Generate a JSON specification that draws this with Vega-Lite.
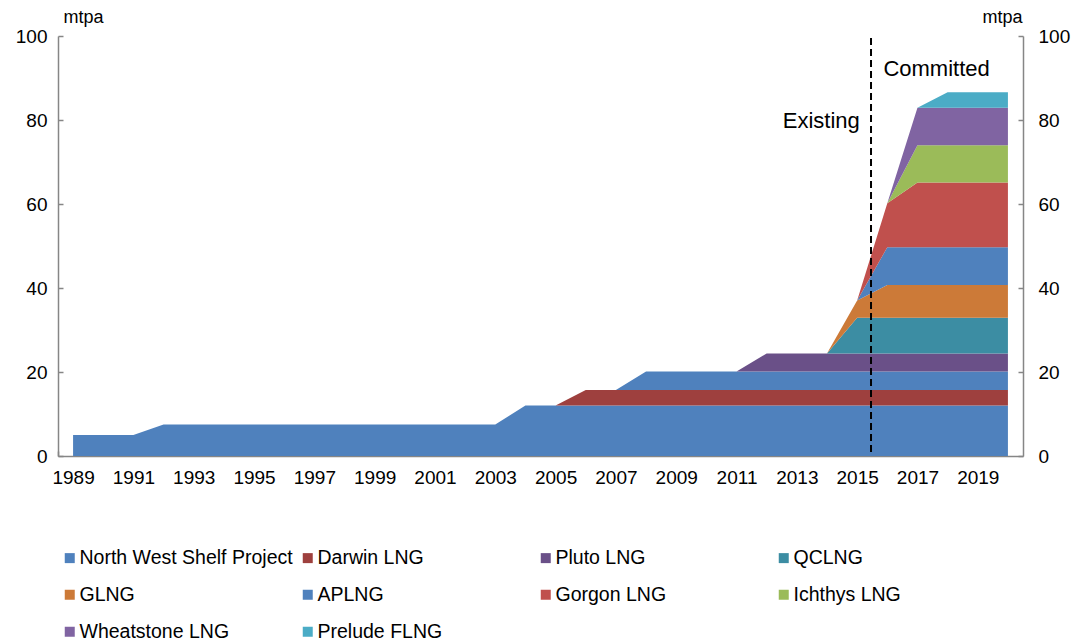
{
  "$schema": "https://vega.github.io/schema/vega-lite/v6.json",
  "width": 965,
  "height": 420,
  "autosize": "none",
  "padding": {"left": 58, "top": 36, "right": 59, "bottom": 185},
  "config": {
    "view": {"stroke": null},
    "font": "Liberation Sans",
    "axis": {
      "grid": false,
      "labelFont": "Liberation Sans",
      "labelFontSize": 19,
      "labelColor": "#000000",
      "domainColor": "#868686",
      "domainWidth": 1.5,
      "tickColor": "#868686",
      "tickWidth": 1.5,
      "titleFont": "Liberation Sans",
      "titleFontWeight": "normal",
      "titleColor": "#000000"
    }
  },
  "encoding": {
    "x": {
      "field": "year",
      "type": "quantitative",
      "scale": {"domain": [1988.5, 2020.5], "nice": false, "zero": false},
      "axis": {
        "title": null,
        "values": [1989, 1991, 1993, 1995, 1997, 1999, 2001, 2003, 2005, 2007, 2009, 2011, 2013, 2015, 2017, 2019],
        "format": "d",
        "tickSize": -5,
        "tickOffset": -15.08,
        "labelOffset": 15.08,
        "labelPadding": 17,
        "labelFlush": false,
        "labelOverlap": false
      }
    }
  },
  "layer": [
    {
      "data": {
        "values": [
          {"year": 1989, "project": "North West Shelf Project", "mtpa": 5},
          {"year": 1990, "project": "North West Shelf Project", "mtpa": 5},
          {"year": 1991, "project": "North West Shelf Project", "mtpa": 5},
          {"year": 1992, "project": "North West Shelf Project", "mtpa": 7.5},
          {"year": 1993, "project": "North West Shelf Project", "mtpa": 7.5},
          {"year": 1994, "project": "North West Shelf Project", "mtpa": 7.5},
          {"year": 1995, "project": "North West Shelf Project", "mtpa": 7.5},
          {"year": 1996, "project": "North West Shelf Project", "mtpa": 7.5},
          {"year": 1997, "project": "North West Shelf Project", "mtpa": 7.5},
          {"year": 1998, "project": "North West Shelf Project", "mtpa": 7.5},
          {"year": 1999, "project": "North West Shelf Project", "mtpa": 7.5},
          {"year": 2000, "project": "North West Shelf Project", "mtpa": 7.5},
          {"year": 2001, "project": "North West Shelf Project", "mtpa": 7.5},
          {"year": 2002, "project": "North West Shelf Project", "mtpa": 7.5},
          {"year": 2003, "project": "North West Shelf Project", "mtpa": 7.5},
          {"year": 2004, "project": "North West Shelf Project", "mtpa": 12},
          {"year": 2005, "project": "North West Shelf Project", "mtpa": 12},
          {"year": 2006, "project": "North West Shelf Project", "mtpa": 12},
          {"year": 2007, "project": "North West Shelf Project", "mtpa": 12},
          {"year": 2008, "project": "North West Shelf Project", "mtpa": 12},
          {"year": 2009, "project": "North West Shelf Project", "mtpa": 12},
          {"year": 2010, "project": "North West Shelf Project", "mtpa": 12},
          {"year": 2011, "project": "North West Shelf Project", "mtpa": 12},
          {"year": 2012, "project": "North West Shelf Project", "mtpa": 12},
          {"year": 2013, "project": "North West Shelf Project", "mtpa": 12},
          {"year": 2014, "project": "North West Shelf Project", "mtpa": 12},
          {"year": 2015, "project": "North West Shelf Project", "mtpa": 12},
          {"year": 2016, "project": "North West Shelf Project", "mtpa": 12},
          {"year": 2017, "project": "North West Shelf Project", "mtpa": 12},
          {"year": 2018, "project": "North West Shelf Project", "mtpa": 12},
          {"year": 2019, "project": "North West Shelf Project", "mtpa": 12},
          {"year": 2020, "project": "North West Shelf Project", "mtpa": 12},
          {"year": 2005, "project": "Darwin LNG", "mtpa": 0},
          {"year": 2006, "project": "Darwin LNG", "mtpa": 3.7},
          {"year": 2007, "project": "Darwin LNG", "mtpa": 3.7},
          {"year": 2008, "project": "Darwin LNG", "mtpa": 3.7},
          {"year": 2009, "project": "Darwin LNG", "mtpa": 3.7},
          {"year": 2010, "project": "Darwin LNG", "mtpa": 3.7},
          {"year": 2011, "project": "Darwin LNG", "mtpa": 3.7},
          {"year": 2012, "project": "Darwin LNG", "mtpa": 3.7},
          {"year": 2013, "project": "Darwin LNG", "mtpa": 3.7},
          {"year": 2014, "project": "Darwin LNG", "mtpa": 3.7},
          {"year": 2015, "project": "Darwin LNG", "mtpa": 3.7},
          {"year": 2016, "project": "Darwin LNG", "mtpa": 3.7},
          {"year": 2017, "project": "Darwin LNG", "mtpa": 3.7},
          {"year": 2018, "project": "Darwin LNG", "mtpa": 3.7},
          {"year": 2019, "project": "Darwin LNG", "mtpa": 3.7},
          {"year": 2020, "project": "Darwin LNG", "mtpa": 3.7},
          {"year": 2007, "project": "North West Shelf Train 5", "mtpa": 0},
          {"year": 2008, "project": "North West Shelf Train 5", "mtpa": 4.4},
          {"year": 2009, "project": "North West Shelf Train 5", "mtpa": 4.4},
          {"year": 2010, "project": "North West Shelf Train 5", "mtpa": 4.4},
          {"year": 2011, "project": "North West Shelf Train 5", "mtpa": 4.4},
          {"year": 2012, "project": "North West Shelf Train 5", "mtpa": 4.4},
          {"year": 2013, "project": "North West Shelf Train 5", "mtpa": 4.4},
          {"year": 2014, "project": "North West Shelf Train 5", "mtpa": 4.4},
          {"year": 2015, "project": "North West Shelf Train 5", "mtpa": 4.4},
          {"year": 2016, "project": "North West Shelf Train 5", "mtpa": 4.4},
          {"year": 2017, "project": "North West Shelf Train 5", "mtpa": 4.4},
          {"year": 2018, "project": "North West Shelf Train 5", "mtpa": 4.4},
          {"year": 2019, "project": "North West Shelf Train 5", "mtpa": 4.4},
          {"year": 2020, "project": "North West Shelf Train 5", "mtpa": 4.4},
          {"year": 2011, "project": "Pluto LNG", "mtpa": 0},
          {"year": 2012, "project": "Pluto LNG", "mtpa": 4.3},
          {"year": 2013, "project": "Pluto LNG", "mtpa": 4.3},
          {"year": 2014, "project": "Pluto LNG", "mtpa": 4.3},
          {"year": 2015, "project": "Pluto LNG", "mtpa": 4.3},
          {"year": 2016, "project": "Pluto LNG", "mtpa": 4.3},
          {"year": 2017, "project": "Pluto LNG", "mtpa": 4.3},
          {"year": 2018, "project": "Pluto LNG", "mtpa": 4.3},
          {"year": 2019, "project": "Pluto LNG", "mtpa": 4.3},
          {"year": 2020, "project": "Pluto LNG", "mtpa": 4.3},
          {"year": 2014, "project": "QCLNG", "mtpa": 0},
          {"year": 2015, "project": "QCLNG", "mtpa": 8.5},
          {"year": 2016, "project": "QCLNG", "mtpa": 8.5},
          {"year": 2017, "project": "QCLNG", "mtpa": 8.5},
          {"year": 2018, "project": "QCLNG", "mtpa": 8.5},
          {"year": 2019, "project": "QCLNG", "mtpa": 8.5},
          {"year": 2020, "project": "QCLNG", "mtpa": 8.5},
          {"year": 2014, "project": "GLNG", "mtpa": 0},
          {"year": 2015, "project": "GLNG", "mtpa": 4.1},
          {"year": 2016, "project": "GLNG", "mtpa": 7.8},
          {"year": 2017, "project": "GLNG", "mtpa": 7.8},
          {"year": 2018, "project": "GLNG", "mtpa": 7.8},
          {"year": 2019, "project": "GLNG", "mtpa": 7.8},
          {"year": 2020, "project": "GLNG", "mtpa": 7.8},
          {"year": 2015, "project": "APLNG", "mtpa": 0},
          {"year": 2016, "project": "APLNG", "mtpa": 9.0},
          {"year": 2017, "project": "APLNG", "mtpa": 9.0},
          {"year": 2018, "project": "APLNG", "mtpa": 9.0},
          {"year": 2019, "project": "APLNG", "mtpa": 9.0},
          {"year": 2020, "project": "APLNG", "mtpa": 9.0},
          {"year": 2015, "project": "Gorgon LNG", "mtpa": 0},
          {"year": 2016, "project": "Gorgon LNG", "mtpa": 10.5},
          {"year": 2017, "project": "Gorgon LNG", "mtpa": 15.4},
          {"year": 2018, "project": "Gorgon LNG", "mtpa": 15.4},
          {"year": 2019, "project": "Gorgon LNG", "mtpa": 15.4},
          {"year": 2020, "project": "Gorgon LNG", "mtpa": 15.4},
          {"year": 2016, "project": "Ichthys LNG", "mtpa": 0},
          {"year": 2017, "project": "Ichthys LNG", "mtpa": 8.9},
          {"year": 2018, "project": "Ichthys LNG", "mtpa": 8.9},
          {"year": 2019, "project": "Ichthys LNG", "mtpa": 8.9},
          {"year": 2020, "project": "Ichthys LNG", "mtpa": 8.9},
          {"year": 2016, "project": "Wheatstone LNG", "mtpa": 0},
          {"year": 2017, "project": "Wheatstone LNG", "mtpa": 8.9},
          {"year": 2018, "project": "Wheatstone LNG", "mtpa": 8.9},
          {"year": 2019, "project": "Wheatstone LNG", "mtpa": 8.9},
          {"year": 2020, "project": "Wheatstone LNG", "mtpa": 8.9},
          {"year": 2017, "project": "Prelude FLNG", "mtpa": 0},
          {"year": 2018, "project": "Prelude FLNG", "mtpa": 3.7},
          {"year": 2019, "project": "Prelude FLNG", "mtpa": 3.7},
          {"year": 2020, "project": "Prelude FLNG", "mtpa": 3.7}
        ]
      },
      "transform": [
        {"calculate": "indexof(['North West Shelf Project', 'Darwin LNG', 'North West Shelf Train 5', 'Pluto LNG', 'QCLNG', 'GLNG', 'APLNG', 'Gorgon LNG', 'Ichthys LNG', 'Wheatstone LNG', 'Prelude FLNG'], datum.project)", "as": "stackIndex"}
      ],
      "mark": {"type": "area", "interpolate": "linear"},
      "encoding": {
        "y": {
          "field": "mtpa",
          "type": "quantitative",
          "stack": "zero",
          "scale": {"domain": [0, 100], "nice": false},
          "axis": {
            "orient": "left",
            "values": [0, 20, 40, 60, 80, 100],
            "tickSize": -5,
            "labelPadding": 16,
            "title": "mtpa",
            "titleAngle": 0,
            "titleAlign": "left",
            "titleBaseline": "alphabetic",
            "titleX": 5,
            "titleY": -14,
            "titleFontSize": 18
          }
        },
        "order": {"field": "stackIndex", "type": "quantitative", "sort": "ascending"},
        "color": {
          "field": "project",
          "type": "nominal",
          "scale": {
            "domain": ["North West Shelf Project", "Darwin LNG", "North West Shelf Train 5", "Pluto LNG", "QCLNG", "GLNG", "APLNG", "Gorgon LNG", "Ichthys LNG", "Wheatstone LNG", "Prelude FLNG"],
            "range": ["#4F81BD", "#9E403E", "#4F81BD", "#6A5088", "#3C8DA3", "#CC7A38", "#4F81BD", "#C0504D", "#9BBB59", "#8064A2", "#4BACC6"]
          },
          "legend": {
            "values": ["North West Shelf Project", "Darwin LNG", "Pluto LNG", "QCLNG", "GLNG", "APLNG", "Gorgon LNG", "Ichthys LNG", "Wheatstone LNG", "Prelude FLNG"],
            "title": null,
            "orient": "none",
            "legendX": 2,
            "legendY": 512,
            "direction": "horizontal",
            "columns": 4,
            "gridAlign": "all",
            "columnPadding": 5,
            "rowPadding": 16,
            "symbolType": "square",
            "symbolSize": 100,
            "symbolStrokeWidth": 0,
            "symbolOpacity": 1,
            "labelFontSize": 19.5,
            "labelFont": "Liberation Sans",
            "labelColor": "#000000",
            "labelOffset": 0,
            "labelLimit": 400
          }
        }
      }
    },
    {
      "data": {"values": [{"year": 2015.46, "top": 99.5, "bottom": 0}]},
      "mark": {"type": "rule", "color": "#000000", "strokeWidth": 2, "strokeDash": [7, 4]},
      "encoding": {
        "y": {
          "field": "top",
          "type": "quantitative",
          "scale": {"domain": [0, 100], "nice": false},
          "axis": {
            "orient": "right",
            "values": [0, 20, 40, 60, 80, 100],
            "tickSize": -5,
            "labelPadding": 20,
            "title": "mtpa",
            "titleAngle": 0,
            "titleAlign": "right",
            "titleBaseline": "alphabetic",
            "titleX": -1,
            "titleY": -14,
            "titleFontSize": 18
          }
        },
        "y2": {"field": "bottom"}
      }
    },
    {
      "data": {
        "values": [
          {"year": 2015.09, "ypos": 78.2, "label": "Existing", "side": "right"},
          {"year": 2015.87, "ypos": 90.5, "label": "Committed", "side": "left"}
        ]
      },
      "transform": [{"filter": "datum.side === 'right'"}],
      "mark": {"type": "text", "align": "right", "baseline": "alphabetic", "fontSize": 22, "font": "Liberation Sans", "color": "#000000"},
      "encoding": {
        "y": {"field": "ypos", "type": "quantitative", "scale": {"domain": [0, 100], "nice": false}, "axis": null},
        "text": {"field": "label"}
      }
    },
    {
      "data": {
        "values": [
          {"year": 2015.09, "ypos": 78.2, "label": "Existing", "side": "right"},
          {"year": 2015.87, "ypos": 90.5, "label": "Committed", "side": "left"}
        ]
      },
      "transform": [{"filter": "datum.side === 'left'"}],
      "mark": {"type": "text", "align": "left", "baseline": "alphabetic", "fontSize": 22, "font": "Liberation Sans", "color": "#000000"},
      "encoding": {
        "y": {"field": "ypos", "type": "quantitative", "scale": {"domain": [0, 100], "nice": false}, "axis": null},
        "text": {"field": "label"}
      }
    }
  ],
  "resolve": {"axis": {"y": "independent"}}
}
